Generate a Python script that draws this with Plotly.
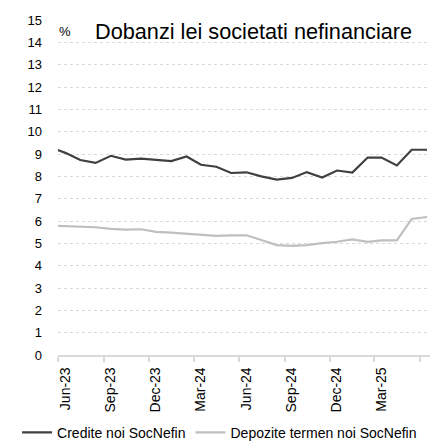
import pandas as pd
import plotly.graph_objects as go

# Monthly observations, May-23 .. Jun-25 (first month sits just left of the axis start)
months = ["2023-05", "2023-06", "2023-07", "2023-08", "2023-09", "2023-10", "2023-11", "2023-12",
          "2024-01", "2024-02", "2024-03", "2024-04", "2024-05", "2024-06", "2024-07", "2024-08",
          "2024-09", "2024-10", "2024-11", "2024-12", "2025-01", "2025-02", "2025-03", "2025-04",
          "2025-05", "2025-06"]

credite = [9.30, 9.05, 8.73, 8.60, 8.92, 8.75, 8.79, 8.73,
           8.68, 8.89, 8.52, 8.43, 8.15, 8.18, 8.00, 7.85,
           7.93, 8.19, 7.95, 8.26, 8.17, 8.84, 8.84, 8.49,
           9.19, 9.19]

depozite = [5.80, 5.78, 5.75, 5.72, 5.65, 5.61, 5.63, 5.51,
            5.48, 5.42, 5.36, 5.33, 5.36, 5.36, 5.15, 4.92,
            4.89, 4.92, 5.01, 5.07, 5.18, 5.07, 5.13, 5.13,
            6.09, 6.18]

tick_dates = ["2023-06-01", "2023-09-01", "2023-12-01", "2024-03-01", "2024-06-01",
              "2024-09-01", "2024-12-01", "2025-03-01", "2025-06-01"]
tick_labels = ["Jun-23", "Sep-23", "Dec-23", "Mar-24", "Jun-24",
               "Sep-24", "Dec-24", "Mar-25", "Jun-25"]

y_ticks = list(range(0, 16))

# plot each monthly value at mid-month
x = pd.to_datetime(months) + pd.Timedelta(days=15)

FONT = "Liberation Sans, Arial, sans-serif"

fig = go.Figure()
fig.add_trace(go.Scatter(x=x, y=credite, mode="lines", name="Credite noi SocNefin",
                         line=dict(color="#404040", width=2.2)))
fig.add_trace(go.Scatter(x=x, y=depozite, mode="lines", name="Depozite termen noi SocNefin",
                         line=dict(color="#bfbfbf", width=2.2)))

fig.update_layout(
    width=432, height=441,
    margin=dict(l=58, r=2, t=20, b=86, autoexpand=False),
    paper_bgcolor="white", plot_bgcolor="white",
    font=dict(family=FONT, color="#000000"),
    showlegend=True,
    legend=dict(orientation="h", x=-0.11, xanchor="left", y=-0.232, yanchor="middle",
                font=dict(size=14, color="#000000"), bgcolor="rgba(0,0,0,0)",
                itemwidth=30, tracegroupgap=0),
)

fig.update_xaxes(
    type="date", automargin=False,
    range=["2023-06-01", "2025-06-22"],
    tickmode="array", tickvals=tick_dates, ticktext=tick_labels,
    tickangle=-90, tickfont=dict(size=14, color="#000000"),
    ticks="outside", ticklen=5, tickcolor="#d9d9d9", tickwidth=1.5,
    ticklabelshift=7,
    showline=True, linecolor="#d9d9d9", linewidth=1.5,
    showgrid=False, zeroline=False,
)

fig.update_yaxes(
    automargin=False,
    range=[0, 15],
    tickmode="array", tickvals=y_ticks, ticktext=[str(v) for v in y_ticks],
    tickangle=0,
    tickfont=dict(size=13, color="#000000"),
    ticks="", ticklabelstandoff=15,
    showgrid=True, gridcolor="#d9d9d9", griddash="dot", gridwidth=1,
    zeroline=False, showline=False,
)

fig.add_annotation(text="%", xref="paper", yref="paper", x=-0.004, y=0.967,
                   xanchor="left", yanchor="middle", showarrow=False,
                   font=dict(size=13, color="#000000", family=FONT))
fig.add_annotation(text="Dobanzi lei societati nefinanciare", xref="paper", yref="paper",
                   x=0.095, y=0.967, xanchor="left", yanchor="middle", showarrow=False,
                   font=dict(size=21.7, color="#000000", family=FONT))

fig.write_html("out.html")
